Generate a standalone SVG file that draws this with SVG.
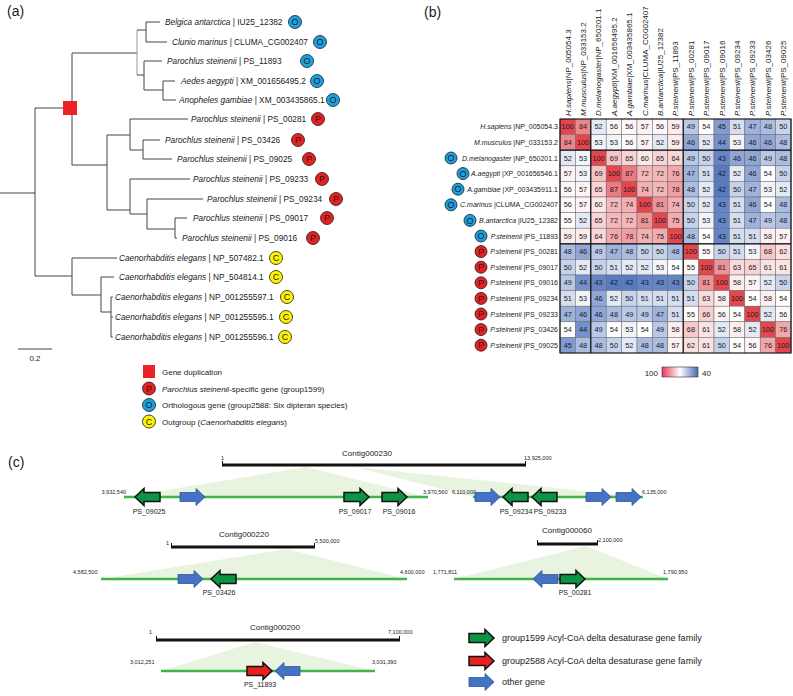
<svg xmlns="http://www.w3.org/2000/svg" width="793" height="696" viewBox="0 0 793 696">
<style>
text{font-family:"Liberation Sans",Arial,sans-serif;fill:#1a1a1a}
.pl{font-size:14px}
.t{font-size:8.3px}
.it{font-style:italic}
.lgA{font-size:8px}
.ml{font-size:9px;text-anchor:middle}
.cO{fill:#1ba1e2;stroke:#1a1a1a;stroke-width:0.8}
.cP{fill:#e8201f;stroke:#1a1a1a;stroke-width:0.8}
.cC{fill:#fff200;stroke:#1a1a1a;stroke-width:0.8}
.tree path{fill:none;stroke:#444;stroke-width:1}
.tree path.lt{stroke:#999}
.hd{font-size:8px}
.rl{font-size:7px;text-anchor:end}
.hv{font-size:7.3px;text-anchor:middle}
.hm rect{stroke:#666;stroke-width:0.5}
.n{font-size:5.5px}
.ne{font-size:5.5px;text-anchor:end}
.ct{font-size:8px;text-anchor:middle}
.ps{font-size:7px;text-anchor:middle}
.lg{font-size:9px}
.bar{stroke:#111;stroke-width:3;fill:none}
.tk{stroke:#111;stroke-width:1}
.gl{stroke:#3db54a;stroke-width:2.5}
.sh{fill:#e8f4df}
.ga{fill:#0c9444;stroke:#111;stroke-width:1.5}
.ra{fill:#e8201f;stroke:#111;stroke-width:1.5}
.ba{fill:#4472c4;stroke:#2f5597;stroke-width:0.8}
.c42{fill:#587ac3}.c43{fill:#6685c8}.c44{fill:#7490cd}.c45{fill:#829bd2}.c46{fill:#90a6d7}.c47{fill:#9eb2dc}.c48{fill:#abbce1}.c49{fill:#b9c8e6}.c50{fill:#c7d3eb}.c51{fill:#d5def0}.c52{fill:#e3e9f5}.c53{fill:#f2f4fa}.c54{fill:#ffffff}.c55{fill:#fefbfb}.c56{fill:#fef7f7}.c57{fill:#fdf3f4}.c58{fill:#fdeff0}.c59{fill:#fcebec}.c60{fill:#fce7e8}.c61{fill:#fbe3e4}.c62{fill:#fadfe0}.c63{fill:#fadbdc}.c64{fill:#f9d7d9}.c65{fill:#f9d3d5}.c66{fill:#f8cfd1}.c68{fill:#f7c7c9}.c69{fill:#f6c3c5}.c72{fill:#f4b7ba}.c74{fill:#f3afb2}.c75{fill:#f3abae}.c76{fill:#f2a7aa}.c78{fill:#f19ea3}.c81{fill:#ef9297}.c84{fill:#ed868c}.c87{fill:#ec7a80}.c100{fill:#e4464e}
</style>
<defs>
<path id="arr" d="M0,-4.5 H16 V-8.5 L25,0 L16,8.5 V4.5 H0 Z"/>
<linearGradient id="grad" x1="0" y1="0" x2="1" y2="0">
<stop offset="0" stop-color="#e63a5f"/><stop offset="0.5" stop-color="#ffffff"/><stop offset="1" stop-color="#4a6cb3"/>
</linearGradient>
</defs>
<rect width="793" height="696" fill="#ffffff"/>

<!-- Panel labels -->
<text class="pl" x="7" y="16">(a)</text>
<text class="pl" x="424" y="17">(b)</text>
<text class="pl" x="8" y="467">(c)</text>

<!-- ===== Panel a: tree ===== -->
<g id="tree-edges" class="tree">
<path d="M0,193 H35 M35,108 V276 M35,108 H70"/>
<path d="M72,53 V165"/>
<path d="M72,53 H137"/>
<path class="lt" d="M137,30 V75"/>
<path d="M137,30 H146 M146,22 V42 M146,22 H160 M146,42 H167"/>
<path d="M137,75 H144 M144,61 V90 M144,61 H162 M144,90 H163 M163,81 V100 M163,81 H175 M163,100 H176"/>
<path d="M72,165 H107 M107,135 V210 M107,135 H130 M107,210 H130"/>
<path d="M130,119 V150 M130,119 H188 M130,150 H143 M143,140 V159 M143,140 H160 M143,159 H172"/>
<path d="M130,179 V214 M130,179 H190 M130,214 H147 M147,199 V229 M147,199 H203 M147,229 H175 M175,218 V238 M175,218 H187 M175,238 H177"/>
<path d="M35,276 H72 M72,258 V295 M72,258 H117 M72,295 H101 M101,277 V312 M101,277 H114 M101,312 H111 M111,297 V337 M111,297 H113 M111,317 H113 M111,337 H113"/>
</g>
<g id="dup-node"><rect x="63" y="101" width="14" height="14" fill="#ec2227"/></g>

<g id="leaf-belgica"><text class="t" x="165" y="25"><tspan class="it">Belgica antarctica</tspan> | IU25_12382</text><circle class="cO" cx="295" cy="22" r="6.5"/><text class="ml" x="295" y="25.2">O</text></g>
<g id="leaf-clunio"><text class="t" x="172" y="45"><tspan class="it">Clunio marinus</tspan> | CLUMA_CG002407</text><circle class="cO" cx="320" cy="42" r="6.5"/><text class="ml" x="320" y="45.2">O</text></g>
<g id="leaf-ps11893"><text class="t" x="167" y="64"><tspan class="it">Parochlus steinenii</tspan> | PS_11893</text><circle class="cO" cx="307" cy="61" r="6.5"/><text class="ml" x="307" y="64.2">O</text></g>
<g id="leaf-aedes"><text class="t" x="181" y="84"><tspan class="it">Aedes aegypti</tspan> | XM_001656495.2</text><circle class="cO" cx="317" cy="81" r="6.5"/><text class="ml" x="317" y="84.2">O</text></g>
<g id="leaf-anopheles"><text class="t" x="179" y="103"><tspan class="it">Anopheles gambiae</tspan> | XM_003435865.1</text><circle class="cO" cx="333" cy="100" r="6.5"/><text class="ml" x="333" y="103.2">O</text></g>
<g id="leaf-ps00281"><text class="t" x="191" y="122"><tspan class="it">Parochlus steinenii</tspan> | PS_00281</text><circle class="cP" cx="318" cy="119" r="6.5"/><text class="ml" x="318" y="122.2">P</text></g>
<g id="leaf-ps03426"><text class="t" x="165" y="143"><tspan class="it">Parochlus steinenii</tspan> | PS_03426</text><circle class="cP" cx="298" cy="140" r="6.5"/><text class="ml" x="298" y="143.2">P</text></g>
<g id="leaf-ps09025"><text class="t" x="177" y="162"><tspan class="it">Parochlus steinenii</tspan> | PS_09025</text><circle class="cP" cx="309" cy="159" r="6.5"/><text class="ml" x="309" y="162.2">P</text></g>
<g id="leaf-ps09233"><text class="t" x="193" y="182"><tspan class="it">Parochlus steinenii</tspan> | PS_09233</text><circle class="cP" cx="322" cy="179" r="6.5"/><text class="ml" x="322" y="182.2">P</text></g>
<g id="leaf-ps09234"><text class="t" x="207" y="202"><tspan class="it">Parochlus steinenii</tspan> | PS_09234</text><circle class="cP" cx="336" cy="199" r="6.5"/><text class="ml" x="336" y="202.2">P</text></g>
<g id="leaf-ps09017"><text class="t" x="193" y="221"><tspan class="it">Parochlus steinenii</tspan> | PS_09017</text><circle class="cP" cx="327" cy="218" r="6.5"/><text class="ml" x="327" y="221.2">P</text></g>
<g id="leaf-ps09016"><text class="t" x="182" y="241"><tspan class="it">Parochlus steinenii</tspan> | PS_09016</text><circle class="cP" cx="313" cy="238" r="6.5"/><text class="ml" x="313" y="241.2">P</text></g>
<g id="leaf-np507482"><text class="t" x="119" y="261"><tspan class="it">Caenorhabditis elegans</tspan> | NP_507482.1</text><circle class="cC" cx="276" cy="258" r="6.5"/><text class="ml" x="276" y="261.2">C</text></g>
<g id="leaf-np504814"><text class="t" x="119" y="280"><tspan class="it">Caenorhabditis elegans</tspan> | NP_504814.1</text><circle class="cC" cx="276" cy="277" r="6.5"/><text class="ml" x="276" y="280.2">C</text></g>
<g id="leaf-np001255597"><text class="t" x="115" y="300"><tspan class="it">Caenorhabditis elegans</tspan> | NP_001255597.1</text><circle class="cC" cx="287" cy="297" r="6.5"/><text class="ml" x="287" y="300.2">C</text></g>
<g id="leaf-np001255595"><text class="t" x="115" y="320"><tspan class="it">Caenorhabditis elegans</tspan> | NP_001255595.1</text><circle class="cC" cx="286" cy="317" r="6.5"/><text class="ml" x="286" y="320.2">C</text></g>
<g id="leaf-np001255596"><text class="t" x="115" y="340"><tspan class="it">Caenorhabditis elegans</tspan> | NP_001255596.1</text><circle class="cC" cx="285" cy="337" r="6.5"/><text class="ml" x="285" y="340.2">C</text></g>

<g id="scale-bar"><path d="M18,349 H52" stroke="#444" stroke-width="1"/><text class="lgA" x="35" y="361" text-anchor="middle">0.2</text></g>

<g id="legend-a">
<rect x="143" y="365" width="12" height="13" fill="#ec2227"/>
<text class="lgA" x="162" y="375">Gene duplication</text>
<circle class="cP" cx="149" cy="388.5" r="6.5"/><text class="ml" x="149" y="391.7">P</text>
<text class="lgA" x="162" y="391.5"><tspan class="it">Parochlus steinenii</tspan>-specific gene (group1599)</text>
<circle class="cO" cx="149" cy="405" r="6.5"/><text class="ml" x="149" y="408.2">O</text>
<text class="lgA" x="162" y="408">Orthologous gene (group2588: Six dipteran species)</text>
<circle class="cC" cx="149" cy="421.5" r="6.5"/><text class="ml" x="149" y="424.7">C</text>
<text class="lgA" x="162" y="424.5">Outgroup (<tspan class="it">Caenorhabditis elegans</tspan>)</text>
</g>

<!-- ===== Panel b: heatmap ===== -->
<g id="heat-headers" class="hd">
<text transform="translate(570.5,116) rotate(-90)"><tspan class="it">H.sapiens</tspan>|NP_005054.3</text>
<text transform="translate(585.9,116) rotate(-90)"><tspan class="it">M.musculus</tspan>|NP_033153.2</text>
<text transform="translate(601.3,116) rotate(-90)"><tspan class="it">D.melanogaster</tspan>|NP_650201.1</text>
<text transform="translate(616.7,116) rotate(-90)"><tspan class="it">A.aegypti</tspan>|XM_001656495.2</text>
<text transform="translate(632.1,116) rotate(-90)"><tspan class="it">A.gambiae</tspan>|XM_003435865.1</text>
<text transform="translate(647.5,116) rotate(-90)"><tspan class="it">C.marinus</tspan>|CLUMA_CG002407</text>
<text transform="translate(662.9,116) rotate(-90)"><tspan class="it">B.antarctica</tspan>|IU25_12382</text>
<text transform="translate(678.3,116) rotate(-90)"><tspan class="it">P.steinenii</tspan>|PS_11893</text>
<text transform="translate(693.7,116) rotate(-90)"><tspan class="it">P.steinenii</tspan>|PS_00281</text>
<text transform="translate(709.1,116) rotate(-90)"><tspan class="it">P.steinenii</tspan>|PS_09017</text>
<text transform="translate(724.5,116) rotate(-90)"><tspan class="it">P.steinenii</tspan>|PS_09016</text>
<text transform="translate(739.9,116) rotate(-90)"><tspan class="it">P.steinenii</tspan>|PS_09234</text>
<text transform="translate(755.3,116) rotate(-90)"><tspan class="it">P.steinenii</tspan>|PS_09233</text>
<text transform="translate(770.7,116) rotate(-90)"><tspan class="it">P.steinenii</tspan>|PS_03426</text>
<text transform="translate(786.1,116) rotate(-90)"><tspan class="it">P.steinenii</tspan>|PS_09025</text>
</g>

<g id="heat-rowlabels">
<text class="rl" x="558" y="129.3"><tspan class="it">H.sapiens</tspan> |NP_005054.3</text>
<text class="rl" x="558" y="144.9"><tspan class="it">M.musculus</tspan> |NP_033153.2</text>
<text class="rl" x="558" y="160.5"><tspan class="it">D.melanogaster</tspan> |NP_650201.1</text>
<text class="rl" x="558" y="176.1"><tspan class="it">A.aegypti</tspan> |XP_001656546.1</text>
<text class="rl" x="558" y="191.7"><tspan class="it">A.gambiae</tspan> |XP_003435911.1</text>
<text class="rl" x="558" y="207.3"><tspan class="it">C.marinus</tspan> |CLUMA_CG002407</text>
<text class="rl" x="558" y="222.9"><tspan class="it">B.antarctica</tspan> |IU25_12382</text>
<text class="rl" x="558" y="238.5"><tspan class="it">P.steinenii</tspan> |PS_11893</text>
<text class="rl" x="558" y="254.1"><tspan class="it">P.steinenii</tspan> |PS_00281</text>
<text class="rl" x="558" y="269.7"><tspan class="it">P.steinenii</tspan> |PS_09017</text>
<text class="rl" x="558" y="285.3"><tspan class="it">P.steinenii</tspan> |PS_09016</text>
<text class="rl" x="558" y="300.9"><tspan class="it">P.steinenii</tspan> |PS_09234</text>
<text class="rl" x="558" y="316.5"><tspan class="it">P.steinenii</tspan> |PS_09233</text>
<text class="rl" x="558" y="332.1"><tspan class="it">P.steinenii</tspan> |PS_03426</text>
<text class="rl" x="558" y="347.7"><tspan class="it">P.steinenii</tspan> |PS_09025</text>
</g>

<g id="heat-markers">
<circle class="cO" cx="451" cy="158" r="6"/><text class="ml" x="451" y="161.2">O</text>
<circle class="cO" cx="463" cy="173.6" r="6"/><text class="ml" x="463" y="176.8">O</text>
<circle class="cO" cx="458" cy="189.2" r="6"/><text class="ml" x="458" y="192.4">O</text>
<circle class="cO" cx="451" cy="204.8" r="6"/><text class="ml" x="451" y="208">O</text>
<circle class="cO" cx="470" cy="220.4" r="6"/><text class="ml" x="470" y="223.6">O</text>
<circle class="cO" cx="481" cy="236" r="6"/><text class="ml" x="481" y="239.2">O</text>
<circle class="cP" cx="481" cy="251.6" r="6"/><text class="ml" x="481" y="254.8">P</text>
<circle class="cP" cx="481" cy="267.2" r="6"/><text class="ml" x="481" y="270.4">P</text>
<circle class="cP" cx="481" cy="282.8" r="6"/><text class="ml" x="481" y="286">P</text>
<circle class="cP" cx="481" cy="298.4" r="6"/><text class="ml" x="481" y="301.6">P</text>
<circle class="cP" cx="481" cy="314" r="6"/><text class="ml" x="481" y="317.2">P</text>
<circle class="cP" cx="481" cy="329.6" r="6"/><text class="ml" x="481" y="332.8">P</text>
<circle class="cP" cx="481" cy="345.2" r="6"/><text class="ml" x="481" y="348.4">P</text>
</g>

<g id="heatmap" class="hm">
<g transform="translate(0,119)">
<rect x="560" width="15.4" height="15.6" class="c100"/><rect x="575.4" width="15.4" height="15.6" class="c84"/><rect x="590.8" width="15.4" height="15.6" class="c52"/><rect x="606.2" width="15.4" height="15.6" class="c56"/><rect x="621.6" width="15.4" height="15.6" class="c56"/><rect x="637" width="15.4" height="15.6" class="c57"/><rect x="652.4" width="15.4" height="15.6" class="c56"/><rect x="667.8" width="15.4" height="15.6" class="c59"/><rect x="683.2" width="15.4" height="15.6" class="c49"/><rect x="698.6" width="15.4" height="15.6" class="c54"/><rect x="714" width="15.4" height="15.6" class="c45"/><rect x="729.4" width="15.4" height="15.6" class="c51"/><rect x="744.8" width="15.4" height="15.6" class="c47"/><rect x="760.2" width="15.4" height="15.6" class="c48"/><rect x="775.6" width="15.4" height="15.6" class="c50"/>
<g class="hv"><text x="567.7" y="10.4">100</text><text x="583.1" y="10.4">84</text><text x="598.5" y="10.4">52</text><text x="613.9" y="10.4">56</text><text x="629.3" y="10.4">56</text><text x="644.7" y="10.4">57</text><text x="660.1" y="10.4">56</text><text x="675.5" y="10.4">59</text><text x="690.9" y="10.4">49</text><text x="706.3" y="10.4">54</text><text x="721.7" y="10.4">45</text><text x="737.1" y="10.4">51</text><text x="752.5" y="10.4">47</text><text x="767.9" y="10.4">48</text><text x="783.3" y="10.4">50</text></g>
</g>
<g transform="translate(0,134.6)">
<rect x="560" width="15.4" height="15.6" class="c84"/><rect x="575.4" width="15.4" height="15.6" class="c100"/><rect x="590.8" width="15.4" height="15.6" class="c53"/><rect x="606.2" width="15.4" height="15.6" class="c53"/><rect x="621.6" width="15.4" height="15.6" class="c56"/><rect x="637" width="15.4" height="15.6" class="c57"/><rect x="652.4" width="15.4" height="15.6" class="c52"/><rect x="667.8" width="15.4" height="15.6" class="c59"/><rect x="683.2" width="15.4" height="15.6" class="c46"/><rect x="698.6" width="15.4" height="15.6" class="c52"/><rect x="714" width="15.4" height="15.6" class="c44"/><rect x="729.4" width="15.4" height="15.6" class="c53"/><rect x="744.8" width="15.4" height="15.6" class="c46"/><rect x="760.2" width="15.4" height="15.6" class="c46"/><rect x="775.6" width="15.4" height="15.6" class="c48"/>
<g class="hv"><text x="567.7" y="10.4">84</text><text x="583.1" y="10.4">100</text><text x="598.5" y="10.4">53</text><text x="613.9" y="10.4">53</text><text x="629.3" y="10.4">56</text><text x="644.7" y="10.4">57</text><text x="660.1" y="10.4">52</text><text x="675.5" y="10.4">59</text><text x="690.9" y="10.4">46</text><text x="706.3" y="10.4">52</text><text x="721.7" y="10.4">44</text><text x="737.1" y="10.4">53</text><text x="752.5" y="10.4">46</text><text x="767.9" y="10.4">46</text><text x="783.3" y="10.4">48</text></g>
</g>
<g transform="translate(0,150.2)">
<rect x="560" width="15.4" height="15.6" class="c52"/><rect x="575.4" width="15.4" height="15.6" class="c53"/><rect x="590.8" width="15.4" height="15.6" class="c100"/><rect x="606.2" width="15.4" height="15.6" class="c69"/><rect x="621.6" width="15.4" height="15.6" class="c65"/><rect x="637" width="15.4" height="15.6" class="c60"/><rect x="652.4" width="15.4" height="15.6" class="c65"/><rect x="667.8" width="15.4" height="15.6" class="c64"/><rect x="683.2" width="15.4" height="15.6" class="c49"/><rect x="698.6" width="15.4" height="15.6" class="c50"/><rect x="714" width="15.4" height="15.6" class="c43"/><rect x="729.4" width="15.4" height="15.6" class="c46"/><rect x="744.8" width="15.4" height="15.6" class="c46"/><rect x="760.2" width="15.4" height="15.6" class="c49"/><rect x="775.6" width="15.4" height="15.6" class="c48"/>
<g class="hv"><text x="567.7" y="10.4">52</text><text x="583.1" y="10.4">53</text><text x="598.5" y="10.4">100</text><text x="613.9" y="10.4">69</text><text x="629.3" y="10.4">65</text><text x="644.7" y="10.4">60</text><text x="660.1" y="10.4">65</text><text x="675.5" y="10.4">64</text><text x="690.9" y="10.4">49</text><text x="706.3" y="10.4">50</text><text x="721.7" y="10.4">43</text><text x="737.1" y="10.4">46</text><text x="752.5" y="10.4">46</text><text x="767.9" y="10.4">49</text><text x="783.3" y="10.4">48</text></g>
</g>
<g transform="translate(0,165.8)">
<rect x="560" width="15.4" height="15.6" class="c57"/><rect x="575.4" width="15.4" height="15.6" class="c53"/><rect x="590.8" width="15.4" height="15.6" class="c69"/><rect x="606.2" width="15.4" height="15.6" class="c100"/><rect x="621.6" width="15.4" height="15.6" class="c87"/><rect x="637" width="15.4" height="15.6" class="c72"/><rect x="652.4" width="15.4" height="15.6" class="c72"/><rect x="667.8" width="15.4" height="15.6" class="c76"/><rect x="683.2" width="15.4" height="15.6" class="c47"/><rect x="698.6" width="15.4" height="15.6" class="c51"/><rect x="714" width="15.4" height="15.6" class="c42"/><rect x="729.4" width="15.4" height="15.6" class="c52"/><rect x="744.8" width="15.4" height="15.6" class="c46"/><rect x="760.2" width="15.4" height="15.6" class="c54"/><rect x="775.6" width="15.4" height="15.6" class="c50"/>
<g class="hv"><text x="567.7" y="10.4">57</text><text x="583.1" y="10.4">53</text><text x="598.5" y="10.4">69</text><text x="613.9" y="10.4">100</text><text x="629.3" y="10.4">87</text><text x="644.7" y="10.4">72</text><text x="660.1" y="10.4">72</text><text x="675.5" y="10.4">76</text><text x="690.9" y="10.4">47</text><text x="706.3" y="10.4">51</text><text x="721.7" y="10.4">42</text><text x="737.1" y="10.4">52</text><text x="752.5" y="10.4">46</text><text x="767.9" y="10.4">54</text><text x="783.3" y="10.4">50</text></g>
</g>
<g transform="translate(0,181.4)">
<rect x="560" width="15.4" height="15.6" class="c56"/><rect x="575.4" width="15.4" height="15.6" class="c57"/><rect x="590.8" width="15.4" height="15.6" class="c65"/><rect x="606.2" width="15.4" height="15.6" class="c87"/><rect x="621.6" width="15.4" height="15.6" class="c100"/><rect x="637" width="15.4" height="15.6" class="c74"/><rect x="652.4" width="15.4" height="15.6" class="c72"/><rect x="667.8" width="15.4" height="15.6" class="c78"/><rect x="683.2" width="15.4" height="15.6" class="c48"/><rect x="698.6" width="15.4" height="15.6" class="c52"/><rect x="714" width="15.4" height="15.6" class="c42"/><rect x="729.4" width="15.4" height="15.6" class="c50"/><rect x="744.8" width="15.4" height="15.6" class="c47"/><rect x="760.2" width="15.4" height="15.6" class="c53"/><rect x="775.6" width="15.4" height="15.6" class="c52"/>
<g class="hv"><text x="567.7" y="10.4">56</text><text x="583.1" y="10.4">57</text><text x="598.5" y="10.4">65</text><text x="613.9" y="10.4">87</text><text x="629.3" y="10.4">100</text><text x="644.7" y="10.4">74</text><text x="660.1" y="10.4">72</text><text x="675.5" y="10.4">78</text><text x="690.9" y="10.4">48</text><text x="706.3" y="10.4">52</text><text x="721.7" y="10.4">42</text><text x="737.1" y="10.4">50</text><text x="752.5" y="10.4">47</text><text x="767.9" y="10.4">53</text><text x="783.3" y="10.4">52</text></g>
</g>
<g transform="translate(0,197)">
<rect x="560" width="15.4" height="15.6" class="c56"/><rect x="575.4" width="15.4" height="15.6" class="c57"/><rect x="590.8" width="15.4" height="15.6" class="c60"/><rect x="606.2" width="15.4" height="15.6" class="c72"/><rect x="621.6" width="15.4" height="15.6" class="c74"/><rect x="637" width="15.4" height="15.6" class="c100"/><rect x="652.4" width="15.4" height="15.6" class="c81"/><rect x="667.8" width="15.4" height="15.6" class="c74"/><rect x="683.2" width="15.4" height="15.6" class="c50"/><rect x="698.6" width="15.4" height="15.6" class="c52"/><rect x="714" width="15.4" height="15.6" class="c43"/><rect x="729.4" width="15.4" height="15.6" class="c51"/><rect x="744.8" width="15.4" height="15.6" class="c46"/><rect x="760.2" width="15.4" height="15.6" class="c54"/><rect x="775.6" width="15.4" height="15.6" class="c48"/>
<g class="hv"><text x="567.7" y="10.4">56</text><text x="583.1" y="10.4">57</text><text x="598.5" y="10.4">60</text><text x="613.9" y="10.4">72</text><text x="629.3" y="10.4">74</text><text x="644.7" y="10.4">100</text><text x="660.1" y="10.4">81</text><text x="675.5" y="10.4">74</text><text x="690.9" y="10.4">50</text><text x="706.3" y="10.4">52</text><text x="721.7" y="10.4">43</text><text x="737.1" y="10.4">51</text><text x="752.5" y="10.4">46</text><text x="767.9" y="10.4">54</text><text x="783.3" y="10.4">48</text></g>
</g>
<g transform="translate(0,212.6)">
<rect x="560" width="15.4" height="15.6" class="c55"/><rect x="575.4" width="15.4" height="15.6" class="c52"/><rect x="590.8" width="15.4" height="15.6" class="c65"/><rect x="606.2" width="15.4" height="15.6" class="c72"/><rect x="621.6" width="15.4" height="15.6" class="c72"/><rect x="637" width="15.4" height="15.6" class="c81"/><rect x="652.4" width="15.4" height="15.6" class="c100"/><rect x="667.8" width="15.4" height="15.6" class="c75"/><rect x="683.2" width="15.4" height="15.6" class="c50"/><rect x="698.6" width="15.4" height="15.6" class="c53"/><rect x="714" width="15.4" height="15.6" class="c43"/><rect x="729.4" width="15.4" height="15.6" class="c51"/><rect x="744.8" width="15.4" height="15.6" class="c47"/><rect x="760.2" width="15.4" height="15.6" class="c49"/><rect x="775.6" width="15.4" height="15.6" class="c48"/>
<g class="hv"><text x="567.7" y="10.4">55</text><text x="583.1" y="10.4">52</text><text x="598.5" y="10.4">65</text><text x="613.9" y="10.4">72</text><text x="629.3" y="10.4">72</text><text x="644.7" y="10.4">81</text><text x="660.1" y="10.4">100</text><text x="675.5" y="10.4">75</text><text x="690.9" y="10.4">50</text><text x="706.3" y="10.4">53</text><text x="721.7" y="10.4">43</text><text x="737.1" y="10.4">51</text><text x="752.5" y="10.4">47</text><text x="767.9" y="10.4">49</text><text x="783.3" y="10.4">48</text></g>
</g>
<g transform="translate(0,228.2)">
<rect x="560" width="15.4" height="15.6" class="c59"/><rect x="575.4" width="15.4" height="15.6" class="c59"/><rect x="590.8" width="15.4" height="15.6" class="c64"/><rect x="606.2" width="15.4" height="15.6" class="c76"/><rect x="621.6" width="15.4" height="15.6" class="c78"/><rect x="637" width="15.4" height="15.6" class="c74"/><rect x="652.4" width="15.4" height="15.6" class="c75"/><rect x="667.8" width="15.4" height="15.6" class="c100"/><rect x="683.2" width="15.4" height="15.6" class="c48"/><rect x="698.6" width="15.4" height="15.6" class="c54"/><rect x="714" width="15.4" height="15.6" class="c43"/><rect x="729.4" width="15.4" height="15.6" class="c51"/><rect x="744.8" width="15.4" height="15.6" class="c51"/><rect x="760.2" width="15.4" height="15.6" class="c58"/><rect x="775.6" width="15.4" height="15.6" class="c57"/>
<g class="hv"><text x="567.7" y="10.4">59</text><text x="583.1" y="10.4">59</text><text x="598.5" y="10.4">64</text><text x="613.9" y="10.4">76</text><text x="629.3" y="10.4">78</text><text x="644.7" y="10.4">74</text><text x="660.1" y="10.4">75</text><text x="675.5" y="10.4">100</text><text x="690.9" y="10.4">48</text><text x="706.3" y="10.4">54</text><text x="721.7" y="10.4">43</text><text x="737.1" y="10.4">51</text><text x="752.5" y="10.4">51</text><text x="767.9" y="10.4">58</text><text x="783.3" y="10.4">57</text></g>
</g>
<g transform="translate(0,243.8)">
<rect x="560" width="15.4" height="15.6" class="c48"/><rect x="575.4" width="15.4" height="15.6" class="c46"/><rect x="590.8" width="15.4" height="15.6" class="c49"/><rect x="606.2" width="15.4" height="15.6" class="c47"/><rect x="621.6" width="15.4" height="15.6" class="c48"/><rect x="637" width="15.4" height="15.6" class="c50"/><rect x="652.4" width="15.4" height="15.6" class="c50"/><rect x="667.8" width="15.4" height="15.6" class="c48"/><rect x="683.2" width="15.4" height="15.6" class="c100"/><rect x="698.6" width="15.4" height="15.6" class="c55"/><rect x="714" width="15.4" height="15.6" class="c50"/><rect x="729.4" width="15.4" height="15.6" class="c51"/><rect x="744.8" width="15.4" height="15.6" class="c53"/><rect x="760.2" width="15.4" height="15.6" class="c68"/><rect x="775.6" width="15.4" height="15.6" class="c62"/>
<g class="hv"><text x="567.7" y="10.4">48</text><text x="583.1" y="10.4">46</text><text x="598.5" y="10.4">49</text><text x="613.9" y="10.4">47</text><text x="629.3" y="10.4">48</text><text x="644.7" y="10.4">50</text><text x="660.1" y="10.4">50</text><text x="675.5" y="10.4">48</text><text x="690.9" y="10.4">100</text><text x="706.3" y="10.4">55</text><text x="721.7" y="10.4">50</text><text x="737.1" y="10.4">51</text><text x="752.5" y="10.4">53</text><text x="767.9" y="10.4">68</text><text x="783.3" y="10.4">62</text></g>
</g>
<g transform="translate(0,259.4)">
<rect x="560" width="15.4" height="15.6" class="c50"/><rect x="575.4" width="15.4" height="15.6" class="c52"/><rect x="590.8" width="15.4" height="15.6" class="c50"/><rect x="606.2" width="15.4" height="15.6" class="c51"/><rect x="621.6" width="15.4" height="15.6" class="c52"/><rect x="637" width="15.4" height="15.6" class="c52"/><rect x="652.4" width="15.4" height="15.6" class="c53"/><rect x="667.8" width="15.4" height="15.6" class="c54"/><rect x="683.2" width="15.4" height="15.6" class="c55"/><rect x="698.6" width="15.4" height="15.6" class="c100"/><rect x="714" width="15.4" height="15.6" class="c81"/><rect x="729.4" width="15.4" height="15.6" class="c63"/><rect x="744.8" width="15.4" height="15.6" class="c65"/><rect x="760.2" width="15.4" height="15.6" class="c61"/><rect x="775.6" width="15.4" height="15.6" class="c61"/>
<g class="hv"><text x="567.7" y="10.4">50</text><text x="583.1" y="10.4">52</text><text x="598.5" y="10.4">50</text><text x="613.9" y="10.4">51</text><text x="629.3" y="10.4">52</text><text x="644.7" y="10.4">52</text><text x="660.1" y="10.4">53</text><text x="675.5" y="10.4">54</text><text x="690.9" y="10.4">55</text><text x="706.3" y="10.4">100</text><text x="721.7" y="10.4">81</text><text x="737.1" y="10.4">63</text><text x="752.5" y="10.4">65</text><text x="767.9" y="10.4">61</text><text x="783.3" y="10.4">61</text></g>
</g>
<g transform="translate(0,275)">
<rect x="560" width="15.4" height="15.6" class="c49"/><rect x="575.4" width="15.4" height="15.6" class="c44"/><rect x="590.8" width="15.4" height="15.6" class="c43"/><rect x="606.2" width="15.4" height="15.6" class="c42"/><rect x="621.6" width="15.4" height="15.6" class="c42"/><rect x="637" width="15.4" height="15.6" class="c43"/><rect x="652.4" width="15.4" height="15.6" class="c43"/><rect x="667.8" width="15.4" height="15.6" class="c43"/><rect x="683.2" width="15.4" height="15.6" class="c50"/><rect x="698.6" width="15.4" height="15.6" class="c81"/><rect x="714" width="15.4" height="15.6" class="c100"/><rect x="729.4" width="15.4" height="15.6" class="c58"/><rect x="744.8" width="15.4" height="15.6" class="c57"/><rect x="760.2" width="15.4" height="15.6" class="c52"/><rect x="775.6" width="15.4" height="15.6" class="c50"/>
<g class="hv"><text x="567.7" y="10.4">49</text><text x="583.1" y="10.4">44</text><text x="598.5" y="10.4">43</text><text x="613.9" y="10.4">42</text><text x="629.3" y="10.4">42</text><text x="644.7" y="10.4">43</text><text x="660.1" y="10.4">43</text><text x="675.5" y="10.4">43</text><text x="690.9" y="10.4">50</text><text x="706.3" y="10.4">81</text><text x="721.7" y="10.4">100</text><text x="737.1" y="10.4">58</text><text x="752.5" y="10.4">57</text><text x="767.9" y="10.4">52</text><text x="783.3" y="10.4">50</text></g>
</g>
<g transform="translate(0,290.6)">
<rect x="560" width="15.4" height="15.6" class="c51"/><rect x="575.4" width="15.4" height="15.6" class="c53"/><rect x="590.8" width="15.4" height="15.6" class="c46"/><rect x="606.2" width="15.4" height="15.6" class="c52"/><rect x="621.6" width="15.4" height="15.6" class="c50"/><rect x="637" width="15.4" height="15.6" class="c51"/><rect x="652.4" width="15.4" height="15.6" class="c51"/><rect x="667.8" width="15.4" height="15.6" class="c51"/><rect x="683.2" width="15.4" height="15.6" class="c51"/><rect x="698.6" width="15.4" height="15.6" class="c63"/><rect x="714" width="15.4" height="15.6" class="c58"/><rect x="729.4" width="15.4" height="15.6" class="c100"/><rect x="744.8" width="15.4" height="15.6" class="c54"/><rect x="760.2" width="15.4" height="15.6" class="c58"/><rect x="775.6" width="15.4" height="15.6" class="c54"/>
<g class="hv"><text x="567.7" y="10.4">51</text><text x="583.1" y="10.4">53</text><text x="598.5" y="10.4">46</text><text x="613.9" y="10.4">52</text><text x="629.3" y="10.4">50</text><text x="644.7" y="10.4">51</text><text x="660.1" y="10.4">51</text><text x="675.5" y="10.4">51</text><text x="690.9" y="10.4">51</text><text x="706.3" y="10.4">63</text><text x="721.7" y="10.4">58</text><text x="737.1" y="10.4">100</text><text x="752.5" y="10.4">54</text><text x="767.9" y="10.4">58</text><text x="783.3" y="10.4">54</text></g>
</g>
<g transform="translate(0,306.2)">
<rect x="560" width="15.4" height="15.6" class="c47"/><rect x="575.4" width="15.4" height="15.6" class="c46"/><rect x="590.8" width="15.4" height="15.6" class="c46"/><rect x="606.2" width="15.4" height="15.6" class="c48"/><rect x="621.6" width="15.4" height="15.6" class="c49"/><rect x="637" width="15.4" height="15.6" class="c49"/><rect x="652.4" width="15.4" height="15.6" class="c47"/><rect x="667.8" width="15.4" height="15.6" class="c51"/><rect x="683.2" width="15.4" height="15.6" class="c55"/><rect x="698.6" width="15.4" height="15.6" class="c66"/><rect x="714" width="15.4" height="15.6" class="c56"/><rect x="729.4" width="15.4" height="15.6" class="c54"/><rect x="744.8" width="15.4" height="15.6" class="c100"/><rect x="760.2" width="15.4" height="15.6" class="c52"/><rect x="775.6" width="15.4" height="15.6" class="c56"/>
<g class="hv"><text x="567.7" y="10.4">47</text><text x="583.1" y="10.4">46</text><text x="598.5" y="10.4">46</text><text x="613.9" y="10.4">48</text><text x="629.3" y="10.4">49</text><text x="644.7" y="10.4">49</text><text x="660.1" y="10.4">47</text><text x="675.5" y="10.4">51</text><text x="690.9" y="10.4">55</text><text x="706.3" y="10.4">66</text><text x="721.7" y="10.4">56</text><text x="737.1" y="10.4">54</text><text x="752.5" y="10.4">100</text><text x="767.9" y="10.4">52</text><text x="783.3" y="10.4">56</text></g>
</g>
<g transform="translate(0,321.8)">
<rect x="560" width="15.4" height="15.6" class="c54"/><rect x="575.4" width="15.4" height="15.6" class="c44"/><rect x="590.8" width="15.4" height="15.6" class="c49"/><rect x="606.2" width="15.4" height="15.6" class="c54"/><rect x="621.6" width="15.4" height="15.6" class="c53"/><rect x="637" width="15.4" height="15.6" class="c54"/><rect x="652.4" width="15.4" height="15.6" class="c49"/><rect x="667.8" width="15.4" height="15.6" class="c58"/><rect x="683.2" width="15.4" height="15.6" class="c68"/><rect x="698.6" width="15.4" height="15.6" class="c61"/><rect x="714" width="15.4" height="15.6" class="c52"/><rect x="729.4" width="15.4" height="15.6" class="c58"/><rect x="744.8" width="15.4" height="15.6" class="c52"/><rect x="760.2" width="15.4" height="15.6" class="c100"/><rect x="775.6" width="15.4" height="15.6" class="c76"/>
<g class="hv"><text x="567.7" y="10.4">54</text><text x="583.1" y="10.4">44</text><text x="598.5" y="10.4">49</text><text x="613.9" y="10.4">54</text><text x="629.3" y="10.4">53</text><text x="644.7" y="10.4">54</text><text x="660.1" y="10.4">49</text><text x="675.5" y="10.4">58</text><text x="690.9" y="10.4">68</text><text x="706.3" y="10.4">61</text><text x="721.7" y="10.4">52</text><text x="737.1" y="10.4">58</text><text x="752.5" y="10.4">52</text><text x="767.9" y="10.4">100</text><text x="783.3" y="10.4">76</text></g>
</g>
<g transform="translate(0,337.4)">
<rect x="560" width="15.4" height="15.6" class="c45"/><rect x="575.4" width="15.4" height="15.6" class="c48"/><rect x="590.8" width="15.4" height="15.6" class="c48"/><rect x="606.2" width="15.4" height="15.6" class="c50"/><rect x="621.6" width="15.4" height="15.6" class="c52"/><rect x="637" width="15.4" height="15.6" class="c48"/><rect x="652.4" width="15.4" height="15.6" class="c48"/><rect x="667.8" width="15.4" height="15.6" class="c57"/><rect x="683.2" width="15.4" height="15.6" class="c62"/><rect x="698.6" width="15.4" height="15.6" class="c61"/><rect x="714" width="15.4" height="15.6" class="c50"/><rect x="729.4" width="15.4" height="15.6" class="c54"/><rect x="744.8" width="15.4" height="15.6" class="c56"/><rect x="760.2" width="15.4" height="15.6" class="c76"/><rect x="775.6" width="15.4" height="15.6" class="c100"/>
<g class="hv"><text x="567.7" y="10.4">45</text><text x="583.1" y="10.4">48</text><text x="598.5" y="10.4">48</text><text x="613.9" y="10.4">50</text><text x="629.3" y="10.4">52</text><text x="644.7" y="10.4">48</text><text x="660.1" y="10.4">48</text><text x="675.5" y="10.4">57</text><text x="690.9" y="10.4">62</text><text x="706.3" y="10.4">61</text><text x="721.7" y="10.4">50</text><text x="737.1" y="10.4">54</text><text x="752.5" y="10.4">56</text><text x="767.9" y="10.4">76</text><text x="783.3" y="10.4">100</text></g>
</g>
<path d="M560,119 H791 V353 H560 Z M590.8,119 V353 M683.2,119 V353 M560,150.2 H791 M560,243.8 H791" fill="none" stroke="#111" stroke-width="1.2"/>
</g>

<g id="heat-legend">
<rect x="662" y="367" width="36" height="10" fill="url(#grad)" stroke="#333" stroke-width="0.6"/>
<text class="lgA" x="658" y="375.5" text-anchor="end">100</text>
<text class="lgA" x="702" y="375.5">40</text>
</g>

<!-- ===== Panel c ===== -->
<g id="zoom-shading">
<polygon class="sh" points="306,467 124,497 428,497"/>
<polygon class="sh" points="355,467 473,497 643,497"/>
<polygon class="sh" points="287,549 101,579 407,579"/>
<polygon class="sh" points="586,546 454,579 668,579"/>
<polygon class="sh" points="255,642 161,671 375,671"/>
</g>

<g id="contig000230">
<path class="bar" d="M222,465 H526"/>
<path class="tk" d="M222.5,461 V465 M525.5,461 V465"/>
<text class="ct" x="367" y="456">Contig000230</text>
<text class="n" x="221" y="460">1</text>
<text class="n" x="524" y="460">13,925,000</text>
</g>
<g id="contig000230-region1">
<path class="gl" d="M124,497 H428"/>
<text class="ne" x="126" y="494">3,932,540</text>
<text class="n" x="423" y="494">3,970,560</text>
</g>
<g id="contig000230-region2">
<path class="gl" d="M473,497 H643"/>
<text class="ne" x="476" y="494">6,110,000</text>
<text class="n" x="642" y="494">6,135,000</text>
</g>

<g id="contig000220">
<path class="bar" d="M171,547 H315"/>
<path class="tk" d="M171.5,543 V547 M314.5,543 V547"/>
<text class="ct" x="244" y="537">Contig000220</text>
<text class="n" x="166" y="545">1</text>
<text class="n" x="315" y="543">5,500,000</text>
<path class="gl" d="M101,579 H407"/>
<text class="n" x="73" y="574">4,582,500</text>
<text class="n" x="400" y="574">4,600,000</text>
</g>

<g id="contig000060">
<path class="bar" d="M537,544 H598"/>
<path class="tk" d="M537.5,540 V544 M597.5,540 V544"/>
<text class="ct" x="567" y="533">Contig000060</text>
<text class="n" x="598" y="542">2,100,000</text>
<path class="gl" d="M454,579 H668"/>
<text class="n" x="433" y="574">1,771,811</text>
<text class="n" x="663" y="574">1,790,950</text>
</g>

<g id="contig000200">
<path class="bar" d="M156,640 H400"/>
<path class="tk" d="M156.5,636 V640 M399.5,636 V640"/>
<text class="ct" x="275" y="630">Contig000200</text>
<text class="n" x="149" y="634">1</text>
<text class="n" x="388" y="634">7,100,000</text>
<path class="gl" d="M161,671 H375"/>
<text class="n" x="130" y="664">3,012,251</text>
<text class="n" x="372" y="664">3,031,390</text>
</g>

<g id="genes">
<g id="gene-ps09025"><use href="#arr" class="ga" transform="translate(160,497) scale(-1,1)"/><text class="ps" x="149" y="514">PS_09025</text></g>
<g id="gene-other1"><use href="#arr" class="ba" transform="translate(180,497)"/></g>
<g id="gene-ps09017"><use href="#arr" class="ga" transform="translate(344,497)"/><text class="ps" x="355" y="514">PS_09017</text></g>
<g id="gene-ps09016"><use href="#arr" class="ga" transform="translate(382,497)"/><text class="ps" x="399" y="514">PS_09016</text></g>
<g id="gene-other2"><use href="#arr" class="ba" transform="translate(475,497)"/></g>
<g id="gene-ps09234"><use href="#arr" class="ga" transform="translate(528,497) scale(-1,1)"/><text class="ps" x="516" y="514">PS_09234</text></g>
<g id="gene-ps09233"><use href="#arr" class="ga" transform="translate(557,497) scale(-1,1)"/><text class="ps" x="550" y="514">PS_09233</text></g>
<g id="gene-other3"><use href="#arr" class="ba" transform="translate(586,497)"/></g>
<g id="gene-other4"><use href="#arr" class="ba" transform="translate(616,497)"/></g>
<g id="gene-other5"><use href="#arr" class="ba" transform="translate(178,579)"/></g>
<g id="gene-ps03426"><use href="#arr" class="ga" transform="translate(236,579) scale(-1,1)"/><text class="ps" x="219" y="595">PS_03426</text></g>
<g id="gene-other6"><use href="#arr" class="ba" transform="translate(558,579) scale(-1,1)"/></g>
<g id="gene-ps00281"><use href="#arr" class="ga" transform="translate(560,579)"/><text class="ps" x="575" y="595">PS_00281</text></g>
<g id="gene-ps11893"><use href="#arr" class="ra" transform="translate(247,671)"/><text class="ps" x="260" y="687">PS_11893</text></g>
<g id="gene-other7"><use href="#arr" class="ba" transform="translate(300,671) scale(-1,1)"/></g>
</g>

<g id="legend-c">
<use href="#arr" class="ga" transform="translate(469,638)"/>
<text class="lg" x="502" y="641">group1599 Acyl-CoA delta desaturase gene family</text>
<use href="#arr" class="ra" transform="translate(469,661)"/>
<text class="lg" x="502" y="664">group2588 Acyl-CoA delta desaturase gene family</text>
<use href="#arr" class="ba" transform="translate(469,682)"/>
<text class="lg" x="502" y="685">other gene</text>
</g>
</svg>
